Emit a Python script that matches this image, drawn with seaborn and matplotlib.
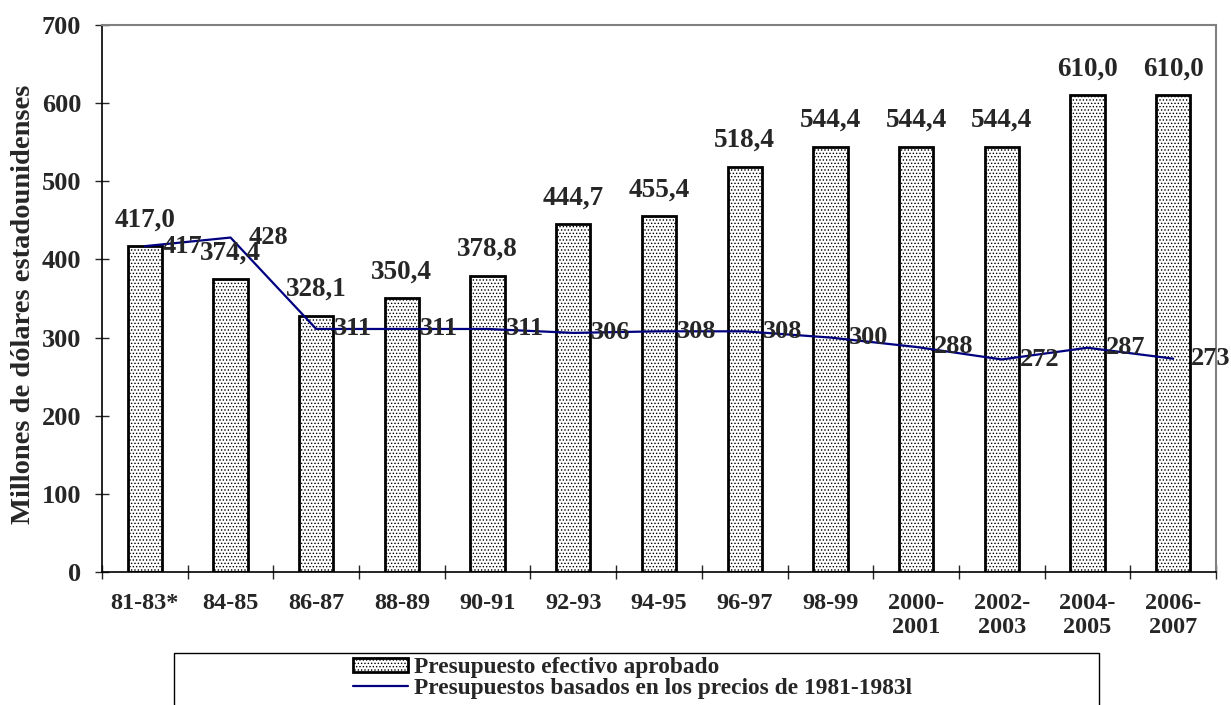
import numpy as np
import pandas as pd
import seaborn as sns
import matplotlib.pyplot as plt
from matplotlib.patches import Patch, Rectangle
from matplotlib.lines import Line2D

periodos = ['81-83*', '84-85', '86-87', '88-89', '90-91', '92-93', '94-95',
            '96-97', '98-99', '2000-\n2001', '2002-\n2003', '2004-\n2005', '2006-\n2007']
presupuesto = [417.0, 374.4, 328.1, 350.4, 378.8, 444.7, 455.4,
               518.4, 544.4, 544.4, 544.4, 610.0, 610.0]
precios_1981 = [417, 428, 311, 311, 311, 306, 308, 308, 300, 288, 272, 287, 273]

sns.set_style('white')
plt.rcParams['font.family'] = ['Liberation Serif', 'DejaVu Serif']
plt.rcParams['font.weight'] = 'bold'
plt.rcParams['hatch.linewidth'] = 0.6

df = pd.DataFrame({'periodo': periodos, 'presupuesto': presupuesto, 'real': precios_1981})

W, H = 1231, 705
fig = plt.figure(figsize=(W / 100, H / 100), dpi=100)
ax = fig.add_axes([102 / W, 1 - 572 / H, (1216 - 102) / W, (572 - 25) / H])

sns.barplot(data=df, x='periodo', y='presupuesto', color='white', width=0.4,
            edgecolor='black', linewidth=2, ax=ax)
for p in ax.patches:
    p.set_hatch('.....')

pos = np.arange(len(periodos))
sns.lineplot(x=pos, y=df['real'], color='#000080', linewidth=1.6, ax=ax)

# etiquetas de las barras
for i, v in enumerate(presupuesto):
    ax.annotate(f'{v:.1f}'.replace('.', ','), (i, v), xytext=(0, 10), textcoords='offset points',
                ha='center', va='bottom', fontsize=19.5, fontweight='bold')
# etiquetas de la linea
for i, v in enumerate(precios_1981):
    ax.annotate(str(v), (i, v), xytext=(13, 0), textcoords='offset points',
                ha='left', va='center', fontsize=19, fontweight='bold')

ax.set_xlim(-0.5, len(periodos) - 0.5)
ax.set_ylim(0, 700)
ax.set_yticks(range(0, 701, 100))
ax.set_yticklabels([str(t) for t in range(0, 701, 100)], fontsize=19, fontweight='bold')
ax.set_xticks(np.arange(-0.5, len(periodos), 1))
ax.set_xticklabels([])
ax.set_xticks(pos, minor=True)
ax.set_xticklabels(periodos, minor=True, fontsize=17.5, fontweight='bold')
ax.tick_params(axis='x', which='major', direction='inout', length=10, width=1, bottom=True)
ax.tick_params(axis='x', which='minor', length=0, pad=15)
ax.tick_params(axis='y', direction='inout', length=10, width=1, left=True, pad=10)
ax.set_xlabel('')
ax.set_ylabel('Millones de dólares estadounidenses', fontsize=20.5, fontweight='bold')
ax.yaxis.set_label_coords(-0.059, 0.49)

for s in ['left', 'bottom']:
    ax.spines[s].set_color('black')
    ax.spines[s].set_linewidth(1.2)
for s in ['top', 'right']:
    ax.spines[s].set_color('#808080')
    ax.spines[s].set_linewidth(1.5)

# leyenda
fig.patches.append(Rectangle((174 / W, -0.05), (1099 - 174) / W, 0.05 + 1 - 653 / H,
                             transform=fig.transFigure, fill=False, edgecolor='black', linewidth=1))
handles = [Patch(facecolor='white', edgecolor='black', hatch='.....', linewidth=2),
           Line2D([0], [0], color='#000080', linewidth=1.6)]
fig.legend(handles, ['Presupuesto efectivo aprobado', 'Presupuestos basados en los precios de 1981-1983l'],
           loc='upper left', bbox_to_anchor=(353 / W, 1 - 657 / H), frameon=False,
           prop={'weight': 'bold', 'size': 16.8}, borderpad=0, borderaxespad=0,
           handlelength=2.36, handleheight=0.56, handletextpad=0.26, labelspacing=0.0)

fig.savefig('out.png', dpi=100)
